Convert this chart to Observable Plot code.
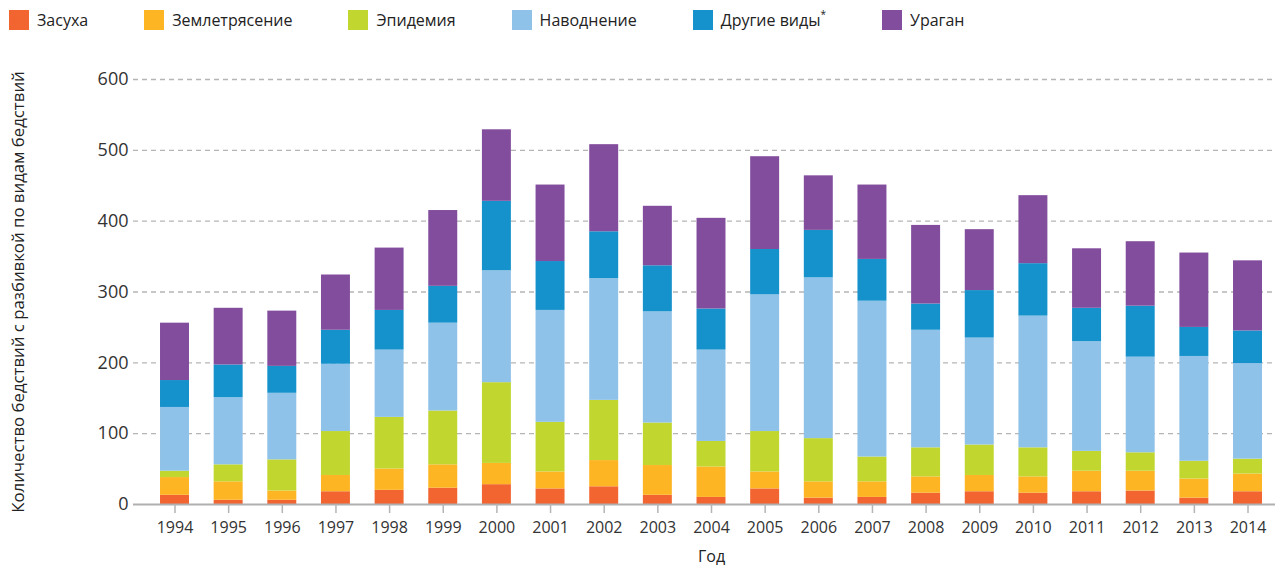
<!DOCTYPE html>
<html>
<head>
<meta charset="utf-8">
<script src="https://cdn.jsdelivr.net/npm/d3@7"></script>
<script src="https://cdn.jsdelivr.net/npm/@observablehq/plot@0.6"></script>
<style>
  html, body { margin: 0; padding: 0; background: #fff; }
  body { width: 1277px; height: 566px; overflow: hidden; font-family: "Open Sans", sans-serif; color: #222; }
  #legend { height: 40px; display: flex; align-items: center; padding-left: 9px; box-sizing: border-box; }
  .item { display: flex; align-items: center; margin-right: 56px; font-size: 16px; }
  .sw { width: 20px; height: 20px; margin-right: 8px; }
  .item sup { font-size: 10px; position: relative; top: -2px; }
  #chart svg { display: block; }
</style>
</head>
<body>
<div id="legend"></div>
<div id="chart"></div>
<script>
const years = ["1994","1995","1996","1997","1998","1999","2000","2001","2002","2003","2004","2005","2006","2007","2008","2009","2010","2011","2012","2013","2014"];
const types = ["Засуха","Землетрясение","Эпидемия","Наводнение","Другие виды*","Ураган"];
const colors = ["#f26531","#fdb523","#c1d72f","#8fc2e8","#1591cb","#834d9e"];
const drought    = [13,6,6,18,20,23,28,22,25,13,10,22,9,10,16,18,16,18,19,9,18];
const earthquake = [25,26,13,23,30,33,30,24,37,42,43,24,23,22,23,23,23,29,28,27,25];
const epidemic   = [9,24,44,62,73,76,114,70,85,60,36,57,61,35,41,43,41,28,26,25,21];
const flood      = [90,95,94,95,95,124,158,158,172,157,129,193,227,220,166,151,186,155,135,148,135];
const other      = [38,46,38,48,56,52,98,69,66,65,58,64,67,59,37,67,74,47,72,41,46];
const storm      = [81,80,78,78,88,107,101,108,123,84,128,131,77,105,111,86,96,84,91,105,99];
const yTicks = [0,100,200,300,400,500,600];
const yLabel = "Количество бедствий с разбивкой по видам бедствий";
const xLabel = "Год";

const series = [drought, earthquake, epidemic, flood, other, storm];
const data = [];
years.forEach((y, i) => types.forEach((t, k) => data.push({year: y, type: t, value: series[k][i]})));

// legend
const legend = document.getElementById("legend");
types.forEach((t, k) => {
  const it = document.createElement("div");
  it.className = "item";
  const sw = document.createElement("div");
  sw.className = "sw";
  sw.style.background = colors[k];
  it.appendChild(sw);
  const label = document.createElement("span");
  if (t.endsWith("*")) {
    label.textContent = t.slice(0, -1);
    const s = document.createElement("sup");
    s.textContent = "*";
    label.appendChild(s);
  } else label.textContent = t;
  it.appendChild(label);
  legend.appendChild(it);
});

const chart = Plot.plot({
  width: 1277,
  height: 526,
  marginTop: 39,
  marginBottom: 62,
  marginLeft: 133,
  marginRight: 2,
  style: {fontFamily: "'Open Sans', sans-serif", color: "#222", background: "#fff"},
  x: {type: "band", domain: years, paddingInner: 0.46, paddingOuter: 0.373, align: 0.675, round: false},
  y: {domain: [0, 600]},
  color: {domain: types, range: colors},
  marks: [
    Plot.ruleY(yTicks.filter(d => d > 0), {stroke: "#b5b5b5", strokeWidth: 1.3, strokeDasharray: "5,4"}),
    Plot.barY(data, {x: "year", y: "value", fill: "type", order: types}),
    Plot.ruleY([0], {stroke: "#b0b0b0", strokeWidth: 2}),
    Plot.axisY({ticks: yTicks, tickSize: 0, tickPadding: 5, fontSize: 18, fill: "#333", label: null}),
    Plot.axisX({tickSize: 9, tickPadding: 8, stroke: "#b5b5b5", strokeWidth: 1.5, fontSize: 16, fill: "#333", label: null}),
    Plot.text([xLabel], {frameAnchor: "bottom", dx: 7, dy: 57, fontSize: 16, fill: "#222"}),
    Plot.text([yLabel], {frameAnchor: "left", textAnchor: "middle", dx: -115, rotate: -90, fontSize: 16.8, fill: "#222"})
  ]
});
document.getElementById("chart").appendChild(chart);
</script>
</body>
</html>
